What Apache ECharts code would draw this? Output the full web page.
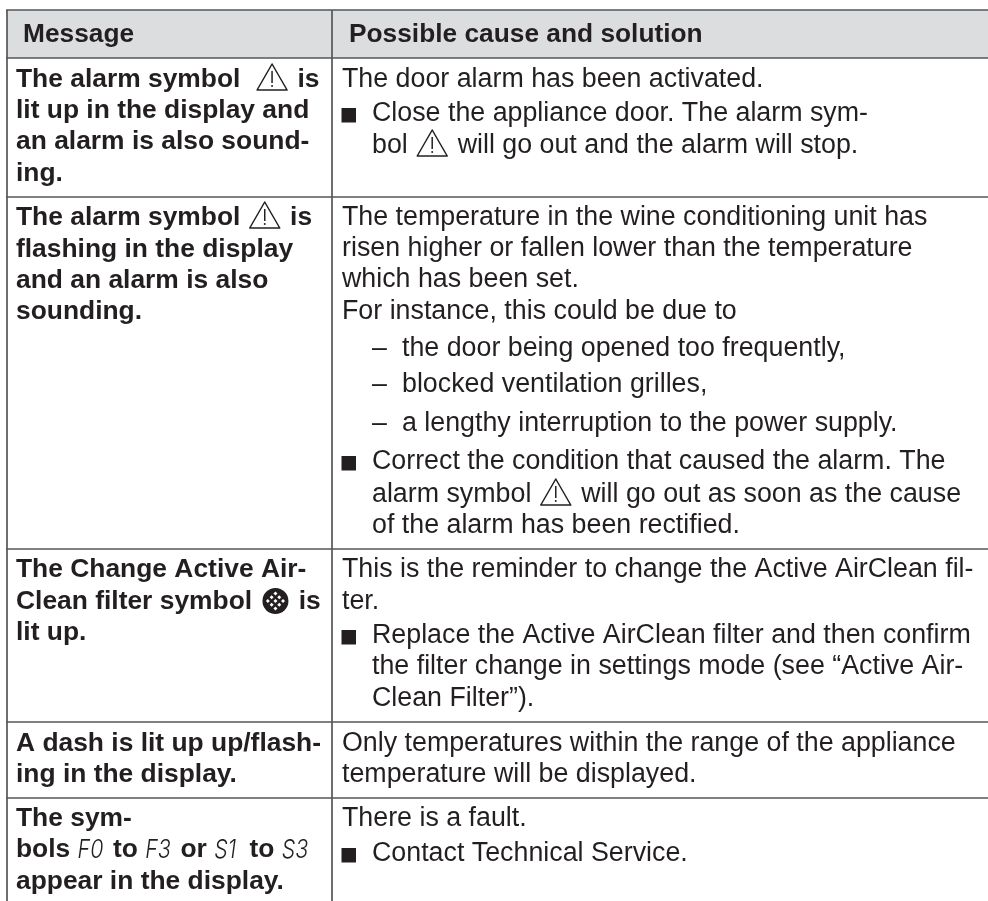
<!DOCTYPE html>
<html>
<head>
<meta charset="utf-8">
<style>
  html, body { margin: 0; padding: 0; background: #fff; }
  #chart { width: 988px; height: 901px; }
</style>
<script src="https://cdn.jsdelivr.net/npm/echarts@6/dist/echarts.min.js"></script>
</head>
<body>
<div id="chart"></div>
<script>
const headers = ['Message', 'Possible cause and solution'];

// {alarm} {filter} are inline icons, {seg:XX} is display lettering
const messageRows = [
  ['The alarm symbol  {alarm} is', 'lit up in the display and', 'an alarm is also sound-', 'ing.'],
  ['The alarm symbol {alarm} is', 'flashing in the display', 'and an alarm is also', 'sounding.'],
  ['The Change Active Air-', 'Clean filter symbol {filter} is', 'lit up.'],
  ['A dash is lit up up/flash-', 'ing in the display.'],
  ['The sym-', 'bols {seg:F0} to {seg:F3} or {seg:S1} to {seg:S3}', 'appear in the display.']
];

// "■ " bullet, "– " dash item, two spaces = hanging line under a bullet
const causeRows = [
  ['The door alarm has been activated.', '■ Close the appliance door. The alarm sym-', '  bol {alarm} will go out and the alarm will stop.'],
  ['The temperature in the wine conditioning unit has', 'risen higher or fallen lower than the temperature', 'which has been set.', 'For instance, this could be due to',
    '– the door being opened too frequently,', '– blocked ventilation grilles,', '– a lengthy interruption to the power supply.',
    '■ Correct the condition that caused the alarm. The', '  alarm symbol {alarm} will go out as soon as the cause', '  of the alarm has been rectified.'],
  ['This is the reminder to change the Active AirClean fil-', 'ter.', '■ Replace the Active AirClean filter and then confirm', '  the filter change in settings mode (see “Active Air-', '  Clean Filter”).'],
  ['Only temperatures within the range of the appliance', 'temperature will be displayed.'],
  ['There is a fault.', '■ Contact Technical Service.']
];

// layout
const messageBaselines = [[88, 119, 150, 182], [226, 258, 289, 320], [578, 610, 641], [752, 783], [827, 858, 890]];
const causeBaselines = [[88, 122, 154], [226, 257, 288, 320, 357, 393, 432, 470, 503, 534], [578, 610, 644, 675, 707], [752, 783], [827, 862]];
const ruleYs = [10, 58, 197, 549, 722, 798];
const columnX = [7, 332];
const tableBottom = 901;

const regularSize = 26.8;
const boldSize = 26.4;
const headSize = 26.3;
const family = '"Liberation Sans", Arial, sans-serif';
const ink = '#231f20';
const ruleColor = '#555658';
const headFill = '#dcddde';

const measure = document.createElement('canvas').getContext('2d');
const fontFor = bold => bold ? 'bold ' + boldSize + 'px ' + family : regularSize + 'px ' + family;
const headFont = 'bold ' + headSize + 'px ' + family;
const segFont = 'italic 300 26px Inter, ' + family;

function textEl(text, x, baseline, font) {
  const size = parseFloat(font.match(/([\d.]+)px/)[1]);
  return {
    type: 'text', silent: true,
    style: { text, x, y: baseline - size * 0.3465 + 1, font, fill: ink, verticalAlign: 'middle', align: 'left' }
  };
}

// display lettering is narrower than any installed face, so squeeze it
function segEl(text, x, baseline) {
  return {
    type: 'text', silent: true, x, y: baseline - 26 * 0.3465 + 1, scaleX: 0.82,
    style: { text, x: 0, y: 0, font: segFont, fill: ink, verticalAlign: 'middle', align: 'left' }
  };
}

function alarmIcon(x, baseline) {
  const top = baseline - 24, bot = baseline + 2, w = 30, mid = x + w / 2;
  return [
    { type: 'polygon', silent: true, shape: { points: [[mid, top], [x + w, bot], [x, bot]] },
      style: { fill: 'none', stroke: ink, lineWidth: 1.5, lineJoin: 'round' } },
    { type: 'line', silent: true, shape: { x1: mid, y1: top + 7, x2: mid, y2: bot - 7 }, style: { stroke: ink, lineWidth: 1.5 } },
    { type: 'circle', silent: true, shape: { cx: mid, cy: bot - 4, r: 1 }, style: { fill: ink } }
  ];
}

function filterIcon(x, baseline) {
  const r = 13, cx = x + r, cy = baseline - 9;
  const out = [{ type: 'circle', silent: true, shape: { cx, cy, r }, style: { fill: ink } }];
  for (let i = -3; i <= 3; i++) {
    for (let j = -3; j <= 3; j++) {
      const dx = (i + j) * 3.8, dy = (i - j) * 3.8;
      if (dx * dx + dy * dy > 115) continue;
      out.push({ type: 'rect', silent: true, rotation: Math.PI / 4, x: cx + dx, y: cy + dy,
        shape: { x: -1.4, y: -1.4, width: 2.8, height: 2.8 }, style: { fill: '#fff' } });
    }
  }
  return out;
}

// lays one line out left to right, mixing text with the inline icons
function inlineLine(line, x, baseline, bold) {
  const out = [];
  line.split(/(\{[^}]+\})/).filter(Boolean).forEach(part => {
    if (part === '{alarm}') {
      out.push(...alarmIcon(x + 2, baseline));
      x += 35;
    } else if (part === '{filter}') {
      out.push(...filterIcon(x + 3, baseline));
      x += 32;
    } else if (part.startsWith('{seg:')) {
      out.push(segEl(part.slice(5, -1), x, baseline));
      x += 28;
    } else {
      const font = fontFor(bold);
      measure.font = font;
      out.push(textEl(part, x, baseline, font));
      x += measure.measureText(part).width;
    }
  });
  return out;
}

function causeLine(line, baseline) {
  if (line.startsWith('■ ')) {
    return [{ type: 'rect', silent: true, shape: { x: 341.5, y: baseline - 14, width: 14.5, height: 14.5 }, style: { fill: ink } },
      ...inlineLine(line.slice(2), 372, baseline, false)];
  }
  if (line.startsWith('– ')) {
    return [textEl('–', 372, baseline, fontFor(false)), ...inlineLine(line.slice(2), 402, baseline, false)];
  }
  if (line.startsWith('  ')) return inlineLine(line.slice(2), 372, baseline, false);
  return inlineLine(line, 342, baseline, false);
}

const elements = [];
elements.push({ type: 'rect', silent: true, shape: { x: 7, y: ruleYs[0], width: 981, height: ruleYs[1] - ruleYs[0] }, style: { fill: headFill } });
ruleYs.forEach(y => elements.push({ type: 'line', silent: true, shape: { x1: 6, y1: y, x2: 988, y2: y }, style: { stroke: ruleColor, lineWidth: 1.7 } }));
columnX.forEach(x => elements.push({ type: 'line', silent: true, shape: { x1: x, y1: ruleYs[0], x2: x, y2: tableBottom }, style: { stroke: ruleColor, lineWidth: 1.7 } }));
elements.push(textEl(headers[0], 23, 43, headFont), textEl(headers[1], 349, 43, headFont));
messageRows.forEach((row, r) => row.forEach((line, i) => elements.push(...inlineLine(line, 16, messageBaselines[r][i], true))));
causeRows.forEach((row, r) => row.forEach((line, i) => elements.push(...causeLine(line, causeBaselines[r][i]))));

const chart = echarts.init(document.getElementById('chart'), null, { renderer: 'canvas' });
chart.setOption({ animation: false, backgroundColor: '#fff', graphic: { elements } });
</script>
</body>
</html>
